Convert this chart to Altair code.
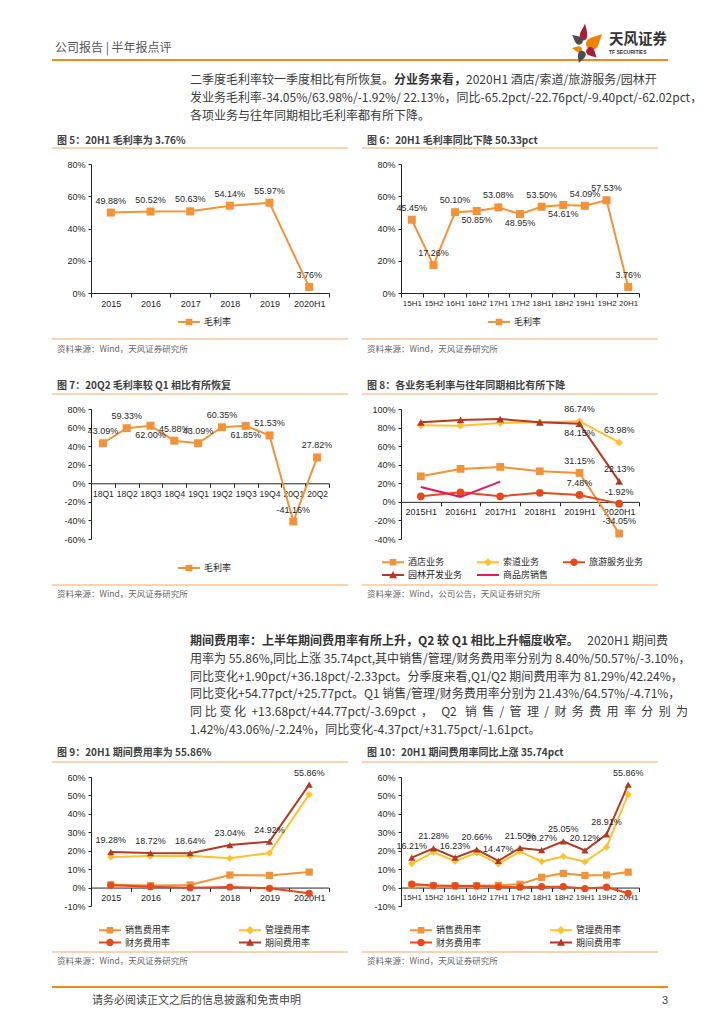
import altair as alt
import pandas as pd

# ---------------- fonts & colours ----------------
CJK = "Noto Sans CJK SC"
NUM = "Liberation Sans"
AX = "#262626"
BODY = "#3a3a3a"
ORANGE = "#F39237"
YELLOW = "#FFC12E"
RED = "#E64A1C"
DARKRED = "#B23A22"
PINK = "#E6185C"
PANEL_LINE = "#F3A863"
HEAD_LINE = "#F08A1C"
CRIMSON = "#A61F3D"
LOGO_GRAY = "#4D4D4D"
LOGO_ORANGE = "#F08300"

# ---------------- data ----------------
years = ["2015", "2016", "2017", "2018", "2019", "2020H1"]
gross_margin_year = [49.88, 50.52, 50.63, 54.14, 55.97, 3.76]

halves = ["15H1", "15H2", "16H1", "16H2", "17H1", "17H2", "18H1", "18H2", "19H1", "19H2", "20H1"]
gross_margin_half = [45.45, 17.26, 50.10, 50.85, 53.08, 48.95, 53.50, 54.61, 54.09, 57.53, 3.76]
gross_margin_half_below = ["16H2", "17H2", "18H2"]

quarters = ["18Q1", "18Q2", "18Q3", "18Q4", "19Q1", "19Q2", "19Q3", "19Q4", "20Q1", "20Q2"]
gross_margin_quarter = [43.09, 59.33, 62.00, 45.88, 43.09, 60.35, 61.85, 51.53, -41.16, 27.82]
gross_margin_quarter_below = ["18Q3", "19Q3"]

seg_periods = ["2015H1", "2016H1", "2017H1", "2018H1", "2019H1", "2020H1"]
seg_names = ["酒店业务", "索道业务", "旅游服务业务", "园林开发业务", "商品房销售"]
seg_hotel = [27.5, 35.5, 37.6, 32.9, 31.15, -34.05]
seg_ropeway = [82.4, 82.0, 85.0, 85.6, 86.74, 63.98]
seg_travel = [6.0, 10.3, 6.0, 9.7, 7.48, -1.92]
seg_garden = [85.6, 88.2, 89.2, 85.6, 84.15, 22.13]
seg_housing = [16.1, 5.4, 21.8, None, None, None]
seg_labeled_periods = ["2019H1", "2020H1"]
seg_labeled_series = ["酒店业务", "索道业务", "旅游服务业务", "园林开发业务"]
seg_below = [("园林开发业务", "2019H1")]

exp_names = ["销售费用率", "管理费用率", "财务费用率", "期间费用率"]
exp_sales_year = [1.5, 1.1, 1.4, 6.8, 6.6, 8.40]
exp_admin_year = [16.6, 17.1, 17.3, 15.9, 18.7, 50.57]
exp_fin_year = [1.2, 0.5, -0.1, 0.3, -0.4, -3.10]
exp_total_year = [19.28, 18.72, 18.64, 23.04, 24.92, 55.86]

exp_sales_half = [1.3, 1.0, 1.0, 1.0, 1.2, 1.8, 5.6, 7.7, 6.6, 6.8, 8.40]
exp_admin_half = [13.0, 19.1, 14.3, 18.8, 12.9, 19.5, 14.2, 16.9, 14.0, 22.0, 50.57]
exp_fin_half = [1.9, 1.1, 0.9, 0.9, 0.4, 0.2, 0.5, 0.5, -0.5, 0.2, -3.10]
exp_total_half = [16.21, 21.28, 16.23, 20.66, 14.47, 21.50, 20.27, 25.05, 20.12, 28.91, 55.86]

# ---------------- texts ----------------
header_left = "公司报告 | 半年报点评"
logo_cn = "天风证券"
logo_en = "TF SECURITIES"
p1_line1 = ["二季度毛利率较一季度相比有所恢复。", "分业务来看，", "2020H1 酒店/索道/旅游服务/园林开"]
p1_rest = ["发业务毛利率-34.05%/63.98%/-1.92%/ 22.13%，同比-65.2pct/-22.76pct/-9.40pct/-62.02pct，",
           "各项业务与往年同期相比毛利率都有所下降。"]
NB = "\u00a0"
p2_line1 = ["期间费用率：上半年期间费用率有所上升，Q2 较 Q1 相比上升幅度收窄。", "2020H1 期间费"]
p2_rest = [
    "用率为 55.86%,同比上涨 35.74pct,其中销售/管理/财务费用率分别为 8.40%/50.57%/-3.10%，",
    "同比变化+1.90pct/+36.18pct/-2.33pct。分季度来看,Q1/Q2 期间费用率为 81.29%/42.24%，",
    "同比变化+54.77pct/+25.77pct。Q1 销售/管理/财务费用率分别为 21.43%/64.57%/-4.71%，",
    NB.join(list("同比变化")) + NB * 2 + "+13.68pct/+44.77pct/-3.69pct" + NB * 2 + "，" + NB * 3 + "Q2" + NB * 3
    + (NB * 2).join(list("销售/管理/财务费用率分别为")),
    "1.42%/43.06%/-2.24%，同比变化-4.37pct/+31.75pct/-1.61pct。",
]
footer_text = "请务必阅读正文之后的信息披露和免责申明"
page_no = "3"

titles = {
    5: "图 5：20H1 毛利率为 3.76%",
    6: "图 6：20H1 毛利率同比下降 50.33pct",
    7: "图 7：20Q2 毛利率较 Q1 相比有所恢复",
    8: "图 8：各业务毛利率与往年同期相比有所下降",
    9: "图 9：20H1 期间费用率为 55.86%",
    10: "图 10：20H1 期间费用率同比上涨 35.74pct",
}
src_default = "资料来源：Wind，天风证券研究所"
src_fig8 = "资料来源：Wind，公司公告，天风证券研究所"

# ---------------- helpers ----------------
ONE = pd.DataFrame({"k": [0]})
PLOT_W = 238


def text_mark(s, x, y, size, color, weight="normal", align="left", font=CJK):
    return alt.Chart(ONE).mark_text(text=s, fontSize=size, color=color, fontWeight=weight,
                                    align=align, baseline="middle", font=font).encode(
        x=alt.value(x), y=alt.value(y))


def rule_mark(x1, x2, y, color, width, opacity=1):
    return alt.Chart(ONE).mark_rule(color=color, strokeWidth=width, opacity=opacity).encode(
        x=alt.value(x1), x2=alt.value(x2), y=alt.value(y))


def petal_path(w):
    return (f"M0,-1C{0.35*w:.3f},-0.45 {w:.3f},0 {w:.3f},0.4"
            f"C{w:.3f},0.8 {0.5*w:.3f},1 0,1C{-0.5*w:.3f},1 {-w:.3f},0.8 {-w:.3f},0.4"
            f"C{-w:.3f},0 {-0.35*w:.3f},-0.45 0,-1Z")


def petal(x, y, length, angle, color, w):
    return alt.Chart(ONE).mark_point(shape=petal_path(w), size=length * length, angle=angle % 360,
                                     filled=True, color=color, opacity=1, strokeWidth=0).encode(
        x=alt.value(x), y=alt.value(y))


def leg_path(shape, k):
    # legend glyph: line segment + marker, unit box scaled by k
    def f(v):
        return f"{v * k:.3f}"
    line = f"M{f(-1)},{f(-0.09)}H{f(1)}V{f(0.09)}H{f(-1)}Z"
    marks = {
        "square": f"M{f(-0.3)},{f(-0.3)}H{f(0.3)}V{f(0.3)}H{f(-0.3)}Z",
        "diamond": f"M0,{f(-0.38)}L{f(0.38)},0L0,{f(0.38)}L{f(-0.38)},0Z",
        "circle": f"M{f(-0.34)},0A{f(0.34)},{f(0.34)} 0 1 1 {f(0.34)},0A{f(0.34)},{f(0.34)} 0 1 1 {f(-0.34)},0Z",
        "triangle-up": f"M0,{f(-0.36)}L{f(0.36)},{f(0.3)}L{f(-0.36)},{f(0.3)}Z",
        None: "",
    }
    return line + marks[shape]


def build_frame(cats, names, values, show_fn, below_fn):
    rows = []
    for name, vals in zip(names, values):
        for c, v in zip(cats, vals):
            if v is None:
                continue
            rows.append(dict(cat=c, series=name, v=v, show=bool(show_fn(name, c)),
                             below=bool(below_fn(name, c))))
    return pd.DataFrame(rows)


def x_enc(cats, offset, fsize):
    return alt.X("cat:N", sort=cats, bandPosition=0.5, title=None,
                 scale=alt.Scale(type="band", domain=cats, paddingInner=0, paddingOuter=0),
                 axis=alt.Axis(tickBand="extent", labelAngle=0, tickSize=4, labelPadding=2,
                               offset=offset, labelOverlap=False, labelBound=False,
                               labelFlush=False, domainColor=AX, tickColor=AX, labelColor=AX,
                               labelFont=NUM, labelFontSize=fsize, domainWidth=1, tickWidth=1,
                               grid=False))


def y_enc(lo, hi, step):
    return alt.Y("v:Q", title=None,
                 scale=alt.Scale(domain=[lo, hi], nice=False, zero=False),
                 axis=alt.Axis(values=list(range(lo, hi + 1, step)),
                               labelExpr="datum.value + '%'", tickSize=3, labelPadding=3,
                               grid=False, domainColor=AX, tickColor=AX, labelColor=AX,
                               labelFont=NUM, labelFontSize=9, labelFlush=False,
                               labelOverlap=False, domainWidth=1, tickWidth=1))


def legend_layer(names, colors, shapes, columns, line_x, row_y, colpad, rowpad):
    """line_x: left end of the first legend line; row_y: centre of the first row.
    The glyph is drawn 22px wide while the legend lays it out in an 11px box."""
    df = pd.DataFrame({"series": names})
    size, k = 121, 2.0
    lx, ly, loff = line_x + 5.5, row_y - 5.5, 9.5
    paths = [leg_path(s, k) for s in shapes]
    leg = alt.Legend(title=None, orient="none", legendX=lx, legendY=ly, columns=columns,
                     direction="horizontal", symbolSize=size, symbolStrokeWidth=0,
                     labelFont=CJK, labelFontSize=9, labelColor=AX, labelOffset=loff,
                     columnPadding=colpad, rowPadding=rowpad, padding=0, symbolOpacity=1)
    return alt.Chart(df).transform_filter("false").mark_point(
        filled=True, size=size, opacity=1).encode(
        color=alt.Color("series:N", sort=names, scale=alt.Scale(domain=names, range=colors), legend=leg),
        shape=alt.Shape("series:N", sort=names, scale=alt.Scale(domain=names, range=paths), legend=leg))


def panel_deco(ox, oy, left, title, ty, line_top, line_bot, source, sy):
    x1 = (52 if left else 362) - ox
    x2 = (348 if left else 658) - ox
    tx = (57 if left else 367) - ox
    return [
        text_mark(title, tx, ty - oy, 10, "#404040", weight="bold"),
        rule_mark(x1, x2, line_top - oy, PANEL_LINE, 1),
        rule_mark(x1, x2, line_bot - oy, PANEL_LINE, 1),
        text_mark(source, tx, sy - oy, 8.5, "#666666"),
    ]


def figure(frame, cats, specs, lo, hi, step, height, legend, extras, xfont=9):
    off = round(-height * (0 - lo) / (hi - lo), 2)
    X = x_enc(cats, off, xfont)
    Y = y_enc(lo, hi, step)
    layers = []
    for name, color, shape, msize in specs:
        base = alt.Chart(frame).transform_filter(alt.datum.series == name)
        layers.append(base.mark_line(color=color, strokeWidth=2).encode(x=X, y=Y))
        if shape:
            layers.append(base.mark_point(filled=True, shape=shape, size=msize, color=color,
                                          opacity=1, strokeWidth=0).encode(x=X, y=Y))
    lab = alt.Chart(frame).transform_calculate(
        lab="replace(format(datum.v, '.2f'), '\u2212', '-') + '%'")
    layers.append(lab.transform_filter("datum.show && !datum.below").mark_text(
        font=NUM, fontSize=9, color=AX, dy=-12, baseline="middle").encode(x=X, y=Y, text="lab:N"))
    layers.append(lab.transform_filter("datum.show && datum.below").mark_text(
        font=NUM, fontSize=9, color=AX, dy=9, baseline="middle").encode(x=X, y=Y, text="lab:N"))
    layers.append(legend)
    layers.extend(extras)
    return alt.layer(*layers).properties(width=PLOT_W, height=height)


never = lambda n, c: False
always = lambda n, c: True

# ---------------- figure 5 ----------------
O5 = (91, 164)
f5 = build_frame(years, ["毛利率"], [gross_margin_year], always, never)
header = [
    text_mark(header_left, 55 - O5[0], 48 - O5[1], 12, "#555555"),
    rule_mark(52 - O5[0], 668 - O5[0], 60 - O5[1], HEAD_LINE, 2),
    petal(584 - O5[0], 32 - O5[1], 17, 8, CRIMSON, 0.45),
    petal(577 - O5[0], 39 - O5[1], 13, -50, LOGO_GRAY, 0.6),
    petal(595 - O5[0], 41 - O5[1], 20, 45, LOGO_ORANGE, 0.6),
    petal(577 - O5[0], 49 - O5[1], 10, -80, LOGO_ORANGE, 0.6),
    petal(592 - O5[0], 53 - O5[1], 13, 135, CRIMSON, 0.65),
    petal(581 - O5[0], 57 - O5[1], 13, 200, LOGO_GRAY, 0.6),
    text_mark(logo_cn, 609 - O5[0], 40 - O5[1], 14.5, "#333333", weight="bold"),
    text_mark(logo_en, 609 - O5[0], 52 - O5[1], 5, "#333333", weight="bold", font=NUM),
    text_mark(p1_line1[0], 190 - O5[0], 80 - O5[1], 12, BODY),
    text_mark(p1_line1[1], 190 + 17 * 12 - O5[0], 80 - O5[1], 12, "#333333", weight="bold"),
    text_mark(p1_line1[2], 190 + 23 * 12 - O5[0], 80 - O5[1], 12, BODY),
    text_mark(p1_rest[0], 190 - O5[0], 98 - O5[1], 12, BODY),
    text_mark(p1_rest[1], 190 - O5[0], 116 - O5[1], 12, BODY),
    rule_mark(-O5[0] + 8, -O5[0] + 9, -O5[1] + 8, "white", 1, opacity=0),
]
fig5 = figure(
    f5, years, [("毛利率", ORANGE, "square", 64)], 0, 80, 20, 129,
    legend_layer(["毛利率"], [ORANGE], ["square"], 1, 87, 158, 10, 0),
    panel_deco(*O5, True, titles[5], 141, 148, 339, src_default, 349) + header)

# ---------------- figure 6 ----------------
O6 = (401, 164)
f6 = build_frame(halves, ["毛利率"], [gross_margin_half], always,
                 lambda n, c: c in gross_margin_half_below)
fig6 = figure(
    f6, halves, [("毛利率", ORANGE, "square", 64)], 0, 80, 20, 129,
    legend_layer(["毛利率"], [ORANGE], ["square"], 1, 87, 158, 10, 0),
    panel_deco(*O6, False, titles[6], 141, 148, 339, src_default, 349), xfont=8)

# ---------------- figure 7 ----------------
O7 = (91, 409)
f7 = build_frame(quarters, ["毛利率"], [gross_margin_quarter], always,
                 lambda n, c: c in gross_margin_quarter_below)
fig7 = figure(
    f7, quarters, [("毛利率", ORANGE, "square", 64)], -60, 80, 20, 130,
    legend_layer(["毛利率"], [ORANGE], ["square"], 1, 87, 159, 10, 0),
    panel_deco(*O7, True, titles[7], 386, 394, 585, src_default, 594), xfont=8.5)

# ---------------- figure 8 ----------------
O8 = (401, 409)
seg_colors = [ORANGE, YELLOW, RED, DARKRED, PINK]
seg_shapes = ["square", "diamond", "circle", "triangle-up", None]
f8 = build_frame(seg_periods, seg_names,
                 [seg_hotel, seg_ropeway, seg_travel, seg_garden, seg_housing],
                 lambda n, c: n in seg_labeled_series and c in seg_labeled_periods,
                 lambda n, c: (n, c) in seg_below)
fig8 = figure(
    f8, seg_periods,
    [(n, c, s, 60) for n, c, s in zip(seg_names, seg_colors, seg_shapes)],
    -40, 100, 20, 130,
    legend_layer(seg_names, seg_colors, seg_shapes, 3, -19, 153, 14, 2),
    panel_deco(*O8, False, titles[8], 386, 394, 585, src_fig8, 594))

# ---------------- paragraph 2 (spacer row) ----------------
OS = (91, 655)
p2_layers = [text_mark(p2_line1[0], 190 - OS[0], 641 - OS[1], 12, "#333333", weight="bold"),
             text_mark(p2_line1[1], 668 - OS[0], 641 - OS[1], 12, BODY, align="right")]
for i, line in enumerate(p2_rest):
    p2_layers.append(text_mark(line, 190 - OS[0], 641 + 17.8 * (i + 1) - OS[1], 12, BODY))
spL = alt.layer(*p2_layers).properties(width=PLOT_W, height=6)
spR = alt.Chart(ONE).mark_text(text=" ").encode(x=alt.value(0), y=alt.value(0)).properties(
    width=PLOT_W, height=6)

# ---------------- figure 9 ----------------
O9 = (91, 777)
exp_colors = [ORANGE, YELLOW, RED, DARKRED]
exp_shapes = ["square", "diamond", "circle", "triangle-up"]
f9 = build_frame(years, exp_names,
                 [exp_sales_year, exp_admin_year, exp_fin_year, exp_total_year],
                 lambda n, c: n == "期间费用率", never)
footer = [
    rule_mark(52 - O9[0], 668 - O9[0], 987 - O9[1], HEAD_LINE, 2),
    text_mark(footer_text, 92 - O9[0], 1001 - O9[1], 11, "#444444"),
    text_mark(page_no, 668 - O9[0], 1001 - O9[1], 11, "#444444", align="right", font=NUM),
]
fig9 = figure(
    f9, years, [(n, c, s, 52) for n, c, s in zip(exp_names, exp_colors, exp_shapes)],
    -10, 60, 10, 129,
    legend_layer(exp_names, exp_colors, exp_shapes, 2, 8, 153, 68, 1.5),
    panel_deco(*O9, True, titles[9], 753, 762, 952, src_default, 961) + footer)

# ---------------- figure 10 ----------------
O10 = (401, 777)
f10 = build_frame(halves, exp_names,
                  [exp_sales_half, exp_admin_half, exp_fin_half, exp_total_half],
                  lambda n, c: n == "期间费用率", never)
fig10 = figure(
    f10, halves, [(n, c, s, 52) for n, c, s in zip(exp_names, exp_colors, exp_shapes)],
    -10, 60, 10, 129,
    legend_layer(exp_names, exp_colors, exp_shapes, 2, 9, 153, 68, 1.5),
    panel_deco(*O10, False, titles[10], 753, 762, 952, src_default, 961), xfont=8)

chart = alt.concat(
    fig5, fig6, fig7, fig8, spL, spR, fig9, fig10,
    columns=2, spacing={"row": 116, "column": 72}, bounds="flush", align="each",
).resolve_scale(color="independent", shape="independent").resolve_legend(
    color="independent", shape="independent"
).properties(padding=0, background="white").configure_view(strokeWidth=0)

chart.save("out.html", embed_options={"renderer": "svg", "actions": False})
